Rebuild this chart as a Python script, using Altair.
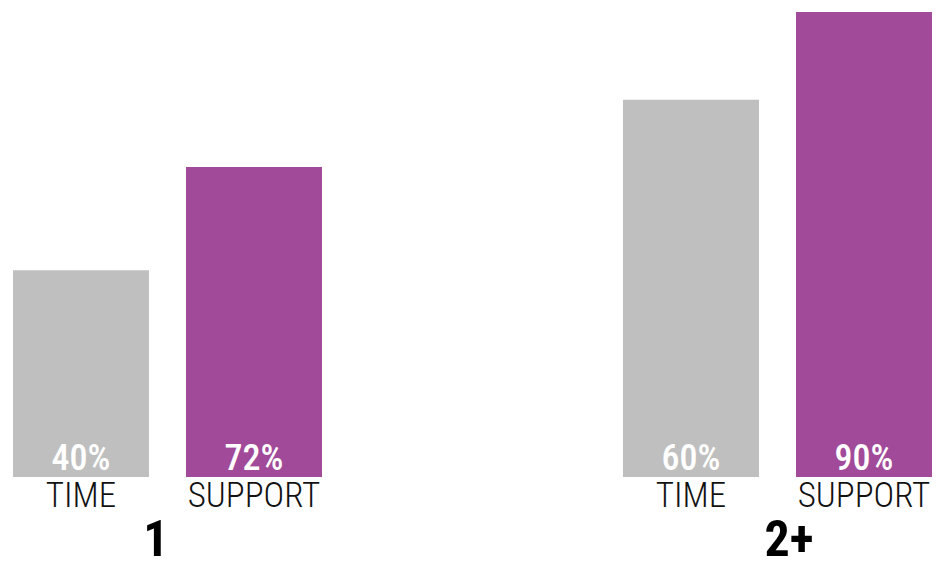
import altair as alt
import pandas as pd

groups = ["1", "1", "2+", "2+"]
categories = ["TIME", "SUPPORT", "TIME", "SUPPORT"]
bar_values = [40, 60, 73, 90]
label_texts = ["40%", "72%", "60%", "90%"]

df = pd.DataFrame({
    "group": groups,
    "category": categories,
    "value": bar_values,
    "label": label_texts,
})

FONT = "Roboto Condensed, DejaVu Sans Condensed, sans-serif"

x_enc = alt.X(
    "category:N",
    sort=["TIME", "SUPPORT"],
    scale=alt.Scale(paddingInner=0.214, paddingOuter=0),
    axis=alt.Axis(
        title=None, domain=False, ticks=False, labelAngle=0,
        labelFont=FONT, labelFontSize=35, labelColor="#111111",
        labelPadding=1, labelFontWeight=300,
    ),
)

bars = alt.Chart().mark_bar(size=136).encode(
    x=x_enc,
    y=alt.Y("value:Q", scale=alt.Scale(domain=[0, 90], nice=False, zero=True), axis=None),
    color=alt.Color(
        "category:N",
        scale=alt.Scale(domain=["TIME", "SUPPORT"], range=["#BFBFBF", "#A14A9A"]),
        legend=None,
    ),
)

texts = alt.Chart().mark_text(
    color="white", font=FONT, fontSize=36, fontWeight=500,
    baseline="alphabetic", dy=-7,
).encode(
    x=alt.X("category:N", sort=["TIME", "SUPPORT"]),
    y=alt.datum(0),
    text="label:N",
)

# non-breaking spaces guarded by a zero-width char so they survive trimming;
# they nudge the centred group labels away from the middle of the gap
PAD = "\u00a0\u00a0"
ZW = "\u200b"
chart = alt.layer(bars, texts, data=df).properties(
    width=309, height=465
).facet(
    column=alt.Column(
        "group:N",
        sort=["1", "2+"],
        header=alt.Header(
            title=None, labelOrient="bottom", labelFont=FONT,
            labelFontSize=50, labelFontWeight="bold", labelColor="#000000",
            labelPadding=3,
            labelExpr=(
                f"datum.value == '1' ? datum.value + '{PAD}{ZW}' "
                f": '{ZW}{PAD}' + datum.value"
            ),
        ),
    ),
    spacing=301,
    bounds="flush",
).properties(
    padding={"left": 12, "top": 12, "right": 0, "bottom": -10},
    background="white",
).configure_view(
    strokeOpacity=0, strokeWidth=0
)

chart.save("out.html", embed_options={"renderer": "svg", "actions": False})
